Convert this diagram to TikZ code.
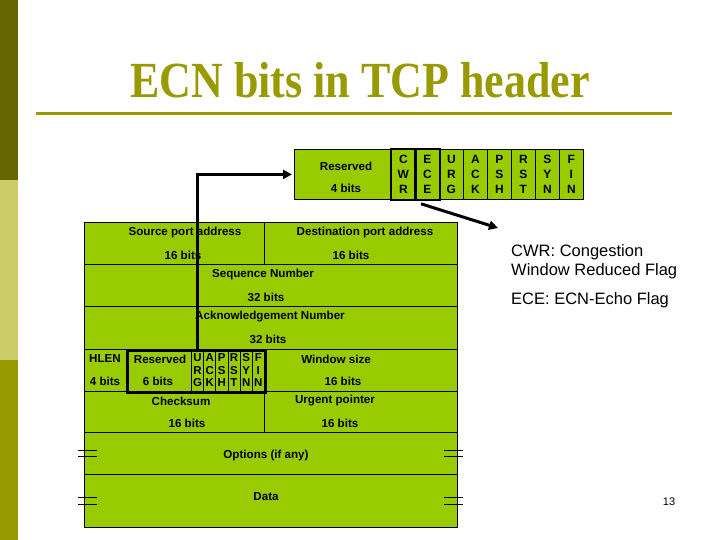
\documentclass[tikz,border=0pt]{standalone}
\usepackage{fontspec}
\setmainfont{Liberation Serif}
\setsansfont{Liberation Sans}
\usepackage{graphicx}
\usepackage{xcolor}
\usetikzlibrary{arrows.meta, positioning}

\definecolor{tcpgreen}{HTML}{99CC00}
\definecolor{titleolive}{HTML}{999900}
\definecolor{bardark}{HTML}{666600}
\definecolor{barlight}{HTML}{CCCC66}

\tikzset{
  cell/.style={draw, fill=tcpgreen, line width=0.8pt, anchor=north west, inner sep=0pt},
  fld/.style={font=\sffamily\bfseries\fontsize{11.6}{13}\selectfont, inner sep=0pt, yshift=-1pt},
  bitcol/.style={cell, align=center, font=\sffamily\bfseries\fontsize{12}{15}\selectfont},
  smallcol/.style={cell, align=center, font=\sffamily\bfseries\fontsize{11.5}{12.5}\selectfont},
  ptr/.style={line width=3pt, -{Triangle[length=9pt, width=9pt]}},
  note/.style={font=\sffamily\fontsize{16.5}{19}\selectfont, align=left, anchor=north west, inner sep=0pt},
}

\begin{document}
\begin{tikzpicture}[x=1pt, y=-1pt]
  \useasboundingbox (0,0) rectangle (720,540);

  % Side bar
  \fill[bardark] (0,0) rectangle (18,180);
  \fill[barlight] (0,180) rectangle (18,360);
  \fill[titleolive] (0,360) rectangle (18,540);

  % Title
  \node[font=\bfseries\fontsize{44}{50}\selectfont, text=titleolive, inner sep=0pt]
    (title) at (360,80) {\scalebox{1}[1.15]{ECN bits in TCP header}};
  \draw[titleolive, line width=3pt] (36,114) -- (672,114);

  % Flag byte (top)
  \node[cell, minimum width=97pt, minimum height=50pt] (resv4) at (294,149) {};
  \node[fld] at (346,165) {Reserved};
  \node[fld] at (346,187) {4 bits};
  \foreach \a/\b/\c [count=\i from 0] in {C/W/R, E/C/E, U/R/G, A/C/K, P/S/H, R/S/T, S/Y/N, F/I/N}
    \node[bitcol, minimum width=24pt, minimum height=50pt] (flagtop\i) at (391+24*\i,149) {\a\\\b\\\c};
  \draw[line width=2.2pt] (flagtop0.north west) rectangle (flagtop0.south east);
  \draw[line width=2.2pt] (flagtop1.north west) rectangle (flagtop1.south east);

  % TCP header rows
  \node[cell, minimum width=180pt, minimum height=42pt] (srcport) at (84,222) {};
  \node[cell, minimum width=193pt, minimum height=42pt] (dstport) at (264,222) {};
  \node[cell, minimum width=373pt, minimum height=42pt] (seqnum) at (84,264) {};
  \node[cell, minimum width=373pt, minimum height=43pt] (acknum) at (84,306) {};
  \node[cell, minimum width=42pt, minimum height=42pt] (hlen) at (84,349) {};
  \node[cell, minimum width=65pt, minimum height=42pt] (resv6) at (126,349) {};
  \foreach \a/\b/\c [count=\i from 0] in {U/R/G, A/C/K, P/S/H, R/S/T, S/Y/N, F/I/N}
    \node[smallcol, minimum width=12.17pt, minimum height=42pt] (flag\i) at (191+12.17*\i,349) {\a\\\b\\\c};
  \node[cell, minimum width=193pt, minimum height=42pt] (winsize) at (264,349) {};
  \node[cell, minimum width=180pt, minimum height=41pt] (checksum) at (84,391) {};
  \node[cell, minimum width=193pt, minimum height=41pt] (urgptr) at (264,391) {};
  \node[cell, minimum width=373pt, minimum height=42pt] (options) at (84,432) {};
  \node[cell, minimum width=373pt, minimum height=53pt] (data) at (84,474) {};
  \node[draw, line width=2.5pt, minimum width=138pt, minimum height=42pt,
    anchor=north west, inner sep=0pt] (ctrlbits) at (126,349) {};

  % Field labels
  \node[fld] at (185,232) {Source port address};
  \node[fld] at (183,254) {16 bits};
  \node[fld] at (365,232) {Destination port address};
  \node[fld] at (351,254) {16 bits};
  \node[fld] at (263,274) {Sequence Number};
  \node[fld] at (266,296) {32 bits};
  \node[fld] at (270,316) {Acknowledgement Number};
  \node[fld] at (268,338) {32 bits};
  \node[fld] at (105,358) {HLEN};
  \node[fld] at (105,380) {4 bits};
  \node[fld] at (160,358) {Reserved};
  \node[fld] at (158,380) {6 bits};
  \node[fld] at (336,358) {Window size};
  \node[fld] at (343,380) {16 bits};
  \node[fld] at (181,400) {Checksum};
  \node[fld] at (187,422) {16 bits};
  \node[fld] at (335,400) {Urgent pointer};
  \node[fld] at (340,422) {16 bits};
  \node[fld] at (266,454) {Options (if any)};
  \node[fld] at (266,496) {Data};

  % Break marks
  \foreach \ty in {450,497.5} {
    \draw[line width=0.8pt] (78,\ty) -- (97,\ty);
    \draw[line width=0.8pt] (78,\ty+6.5) -- (97,\ty+6.5);
    \draw[line width=0.8pt] (444,\ty) -- (463,\ty);
    \draw[line width=0.8pt] (444,\ty+6.5) -- (463,\ty+6.5);
  }

  % Pointers
  \draw[ptr, shorten >=2pt] ([xshift=71pt]ctrlbits.north west) |- (resv4.west);
  \coordinate (ecetip) at (498,228);
  \draw[ptr] ([xshift=6pt, yshift=-4pt]flagtop1.south west) -- (ecetip);

  % Notes
  \node[note] (cwrnote) at (511,244) {CWR: Congestion\\Window Reduced Flag};
  \node[note] (ecenote) at (511,292) {ECE: ECN-Echo Flag};
  \node[font=\sffamily\fontsize{11}{13}\selectfont] (pagenum) at (669,502) {13};
\end{tikzpicture}
\end{document}
